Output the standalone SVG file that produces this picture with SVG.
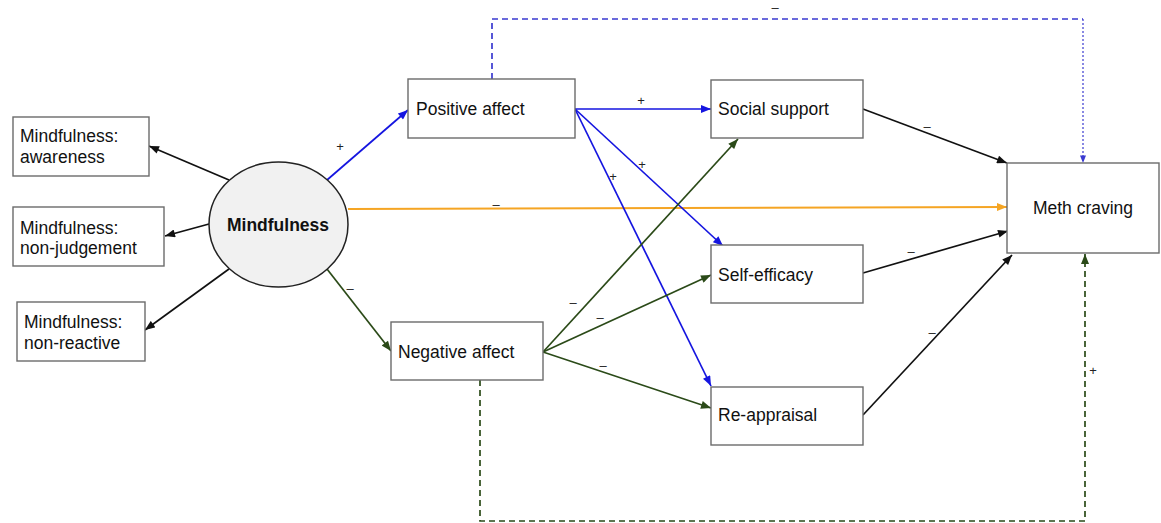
<svg xmlns="http://www.w3.org/2000/svg" width="1161" height="523" viewBox="0 0 1161 523">
<style>
.box{fill:#fff;stroke:#6b6b6b;stroke-width:1.4}
.t{font-family:"Liberation Sans",Arial,sans-serif;font-size:17.5px;fill:#111}
.b{font-weight:bold}
.lbl{font-family:"Liberation Sans",Arial,sans-serif;font-size:13px;fill:#222;text-anchor:middle}
.k{stroke:#111;stroke-width:1.7;fill:none}
.bl{stroke:#1515e0;stroke-width:1.7;fill:none}
.gr{stroke:#2b4a18;stroke-width:1.7;fill:none}
.or{stroke:#f5a524;stroke-width:2;fill:none}
</style>
<defs>
<marker id="ak" viewBox="0 0 10 8" refX="10" refY="4" markerWidth="11" markerHeight="8" markerUnits="userSpaceOnUse" orient="auto"><path d="M0,0L10,4L0,8z" fill="#111"/></marker>
<marker id="ab" viewBox="0 0 10 8" refX="10" refY="4" markerWidth="11" markerHeight="8" markerUnits="userSpaceOnUse" orient="auto"><path d="M0,0L10,4L0,8z" fill="#1515e0"/></marker>
<marker id="ag" viewBox="0 0 10 8" refX="10" refY="4" markerWidth="11" markerHeight="8" markerUnits="userSpaceOnUse" orient="auto"><path d="M0,0L10,4L0,8z" fill="#2b4a18"/></marker>
<marker id="ao" viewBox="0 0 10 8" refX="10" refY="4" markerWidth="11" markerHeight="8" markerUnits="userSpaceOnUse" orient="auto"><path d="M0,0L10,4L0,8z" fill="#f5a524"/></marker>
<marker id="ad" viewBox="0 0 10 8" refX="10" refY="4" markerWidth="8" markerHeight="6" markerUnits="userSpaceOnUse" orient="auto"><path d="M0,0L10,4L0,8z" fill="#3a3ad0"/></marker>
</defs>
<g id="connectors">
<line class="k" x1="229" y1="180" x2="149" y2="146" marker-end="url(#ak)"/>
<line class="k" x1="209" y1="224" x2="165" y2="236" marker-end="url(#ak)"/>
<line class="k" x1="229" y1="269" x2="145" y2="330" marker-end="url(#ak)"/>
<line class="bl" x1="327" y1="180" x2="408" y2="110" marker-end="url(#ab)"/>
<line class="gr" x1="327" y1="269" x2="391" y2="351" marker-end="url(#ag)"/>
<line class="or" x1="348" y1="209" x2="1007" y2="207" marker-end="url(#ao)"/>
<line class="bl" x1="575" y1="109" x2="711" y2="109" marker-end="url(#ab)"/>
<line class="bl" x1="575" y1="109" x2="723" y2="246" marker-end="url(#ab)"/>
<line class="bl" x1="575" y1="109" x2="711" y2="386" marker-end="url(#ab)"/>
<line class="gr" x1="543" y1="352" x2="738" y2="139" marker-end="url(#ag)"/>
<line class="gr" x1="543" y1="352" x2="711" y2="275" marker-end="url(#ag)"/>
<line class="gr" x1="543" y1="352" x2="711" y2="408" marker-end="url(#ag)"/>
<line class="k" x1="863" y1="109" x2="1007" y2="163" marker-end="url(#ak)"/>
<line class="k" x1="863" y1="273" x2="1008" y2="231" marker-end="url(#ak)"/>
<line class="k" x1="863" y1="415" x2="1012" y2="255" marker-end="url(#ak)"/>
<path d="M492,79V19H1083" fill="none" stroke="#3a3ad0" stroke-width="1.7" stroke-dasharray="6,4"/>
<path d="M1083,19V163" fill="none" stroke="#3a3ad0" stroke-width="1.2" stroke-dasharray="2,2" marker-end="url(#ad)"/>
<path d="M480,380V521H1085V254" fill="none" stroke="#2b4a18" stroke-width="1.7" stroke-dasharray="6,4" marker-end="url(#ag)"/>
<text class="lbl" x="340" y="151">+</text>
<text class="lbl" x="350" y="293">–</text>
<text class="lbl" x="496" y="209">–</text>
<text class="lbl" x="641" y="105">+</text>
<text class="lbl" x="642" y="169">+</text>
<text class="lbl" x="613" y="181">+</text>
<text class="lbl" x="573" y="307">–</text>
<text class="lbl" x="600" y="322">–</text>
<text class="lbl" x="603" y="370">–</text>
<text class="lbl" x="927" y="131">–</text>
<text class="lbl" x="911" y="256">–</text>
<text class="lbl" x="932" y="337">–</text>
<text class="lbl" x="775" y="12">–</text>
<text class="lbl" x="1093" y="375">+</text>
</g>
<g id="n-awareness"><rect class="box" x="13" y="117" width="136" height="59"/><text class="t" x="20" y="142">Mindfulness:</text><text class="t" x="20" y="163">awareness</text></g>
<g id="n-nonjudgement"><rect class="box" x="13" y="207" width="151" height="59"/><text class="t" x="20" y="234">Mindfulness:</text><text class="t" x="20" y="254">non-judgement</text></g>
<g id="n-nonreactive"><rect class="box" x="17" y="302" width="128" height="59"/><text class="t" x="24" y="328">Mindfulness:</text><text class="t" x="24" y="349">non-reactive</text></g>
<g id="n-mindfulness"><ellipse cx="278.5" cy="224.5" rx="69.5" ry="62.5" fill="#f1f1f1" stroke="#222" stroke-width="1.5"/><text class="t b" x="278" y="231" text-anchor="middle" font-size="17px">Mindfulness</text></g>
<g id="n-positive"><rect class="box" x="408" y="79" width="167" height="59"/><text class="t" x="416" y="115">Positive affect</text></g>
<g id="n-negative"><rect class="box" x="391" y="322" width="152" height="58"/><text class="t" x="398" y="358">Negative affect</text></g>
<g id="n-social"><rect class="box" x="711" y="80" width="152" height="58"/><text class="t" x="718" y="115">Social support</text></g>
<g id="n-selfefficacy"><rect class="box" x="711" y="245" width="152" height="58"/><text class="t" x="718" y="281">Self-efficacy</text></g>
<g id="n-reappraisal"><rect class="box" x="711" y="387" width="152" height="58"/><text class="t" x="718" y="421">Re-appraisal</text></g>
<g id="n-craving"><rect class="box" x="1007" y="163" width="152" height="90"/><text class="t" x="1083" y="214" text-anchor="middle">Meth craving</text></g>
</svg>
